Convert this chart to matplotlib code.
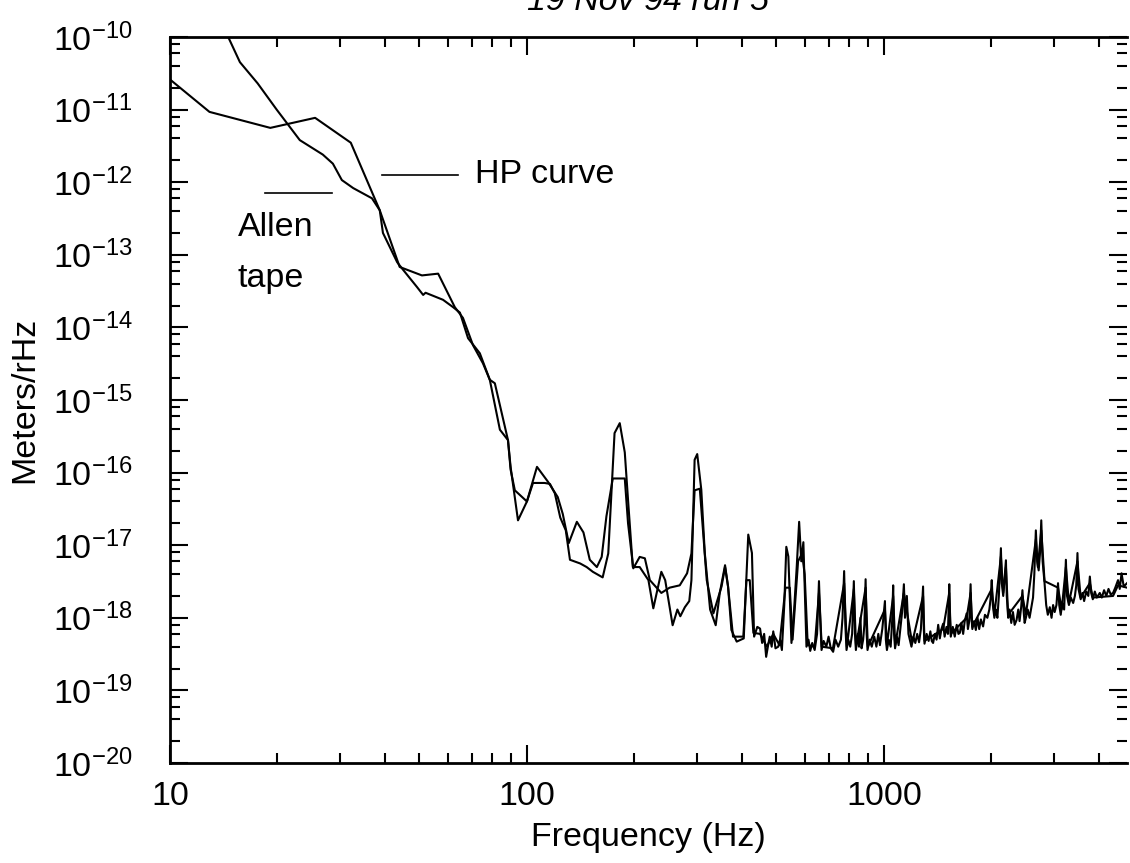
import numpy as np
import matplotlib
matplotlib.use("Agg")
import matplotlib.pyplot as plt
from matplotlib.ticker import LogLocator, FixedLocator, FixedFormatter, NullFormatter

plt.rcParams['font.family'] = ['Liberation Sans', 'DejaVu Sans']
plt.rcParams['mathtext.fontset'] = 'custom'
plt.rcParams['mathtext.rm'] = 'Liberation Sans'
plt.rcParams['mathtext.it'] = 'Liberation Sans:italic'
plt.rcParams['mathtext.default'] = 'regular'

FS = 24.5

# HP curve (coarse analyzer points)
hp_f = [10, 12.9, 19.1, 25.5, 32.1, 38.7, 44, 50.8, 56.4, 62.8, 66.2, 70.6, 75.3, 78.7,
        81.3, 88.5, 90, 94.4, 100, 106.7, 114.5, 122, 126, 131, 138, 144, 150, 157, 162,
        167, 174, 188, 192, 198.6, 207, 214, 221, 238, 251, 268, 281, 289, 295, 305, 312,
        319, 333, 351, 359, 366, 378, 404, 412, 421, 431, 450, 470, 490, 510, 530, 545,
        555, 575, 590, 600, 612, 640, 658, 670, 720, 774, 788, 824, 836, 889, 902, 1007,
        1020, 1062, 1076, 1138, 1200, 1288, 1300, 1466, 1525, 1540, 1706, 1750, 1770, 2006,
        2040, 2128, 2160, 2198, 2230, 2445, 2500, 2666, 2700, 2761, 2820, 3076, 3150, 3236,
        3300, 3487, 3560, 3777, 3850, 4387, 4530, 4800]
hp_a = [2.6e-11, 9.3e-12, 5.6e-12, 7.7e-12, 3.5e-12, 4.1e-13, 6.8e-14, 5.2e-14, 5.5e-14,
        1.9e-14, 1.35e-14, 5.7e-15, 3.2e-15, 1.9e-15, 1.7e-15, 2.8e-16, 1.2e-16, 2.2e-17,
        4.0e-17, 1.2e-16, 7.5e-17, 4.6e-17, 2.7e-17, 1.07e-17, 2.1e-17, 1.5e-17, 6.3e-18,
        5.0e-18, 6.9e-18, 2.5e-17, 8.3e-17, 8.3e-17, 2.0e-17, 4.8e-18, 6.9e-18, 6.6e-18,
        3.3e-18, 2.2e-18, 2.6e-18, 2.8e-18, 4.1e-18, 7.7e-18, 5.7e-17, 6.0e-17, 1.4e-17,
        3.3e-18, 1.15e-18, 2.7e-18, 5.0e-18, 2.7e-18, 5.5e-19, 5.5e-19, 3.3e-18, 3.3e-18,
        6.2e-19, 6.0e-19, 4.0e-19, 6.0e-19, 4.2e-19, 2.6e-18, 2.6e-18, 5.0e-19, 6.0e-18,
        7.7e-18, 4.0e-18, 4.2e-19, 4.0e-19, 2.2e-18, 4.0e-19, 3.8e-19, 3.0e-18, 4.0e-19,
        2.5e-18, 4.0e-19, 2.6e-18, 4.0e-19, 1.3e-18, 4.2e-19, 2.0e-18, 4.2e-19, 2.2e-18,
        4.5e-19, 2.0e-18, 4.8e-19, 7.0e-19, 2.2e-18, 6.0e-19, 1.0e-18, 2.2e-18, 7.5e-19,
        2.5e-18, 1.1e-18, 7.0e-18, 2.2e-18, 5.0e-18, 1.1e-18, 2.0e-18, 1.1e-18, 1.2e-17,
        5.0e-18, 1.6e-17, 3.2e-18, 2.6e-18, 1.3e-18, 5.0e-18, 1.6e-18, 6.0e-18, 1.9e-18,
        3.0e-18, 1.9e-18, 2.0e-18, 2.8e-18, 2.6e-18]

# Allen tape spectrum
allen_f = [14.2, 15.7, 17.6, 19.9, 23.1, 26.8, 28.6, 30.3, 32.6, 36.8, 38.7, 39.5, 43.3,
           45, 49.2, 51.2, 52, 58.2, 62.1, 64.9, 68.4, 73.8, 78.7, 84, 88.5, 90, 92.5, 100,
           104, 112, 116, 119.7, 124, 128.5, 132, 141, 147, 153, 163, 169, 176, 182, 188,
           192, 198, 207, 219, 226, 238, 244, 256, 264, 269, 277, 285, 289, 295, 300, 308,
           315, 326, 338, 347, 359, 366, 374, 387, 405, 417, 427,
           433, 442, 450, 456, 462, 468, 474, 479, 485, 490, 497, 506, 512, 518, 526, 533,
           540, 546, 551, 560, 570, 579, 587, 595, 601, 607, 615, 622, 630, 640, 650, 658,
           664, 669, 678, 690, 700, 710, 721, 732, 745, 758, 766, 774, 780, 786, 795, 805,
           815, 824, 830, 835, 845, 852, 860, 866, 875, 882, 889, 895, 900, 912, 925, 940,
           953, 965, 975, 990, 1007, 1013, 1020, 1032, 1045, 1055, 1062, 1068, 1075, 1088,
           1100, 1112, 1125, 1138, 1146, 1160, 1172, 1182, 1195, 1210, 1225, 1240, 1255,
           1270, 1288, 1294, 1300, 1318, 1335, 1350, 1362, 1374, 1390, 1405, 1420, 1435,
           1450, 1466, 1480, 1498, 1512, 1525, 1533, 1540, 1560, 1580, 1600, 1618, 1633,
           1650, 1668, 1685, 1706, 1720, 1735, 1750, 1760, 1770, 1790, 1810, 1830, 1850,
           1870, 1897, 1920, 1950, 1975, 1990, 2006, 2020, 2040, 2060, 2080, 2100, 2128,
           2140, 2160, 2178, 2198, 2210, 2230, 2250, 2275, 2300, 2325, 2354, 2380, 2400,
           2425, 2445, 2465, 2480, 2500, 2530, 2560, 2590, 2618, 2640, 2666, 2690, 2715,
           2740, 2761, 2785, 2820, 2850, 2880, 2917, 2950, 2980, 3010, 3045, 3076, 3100,
           3130, 3160, 3200, 3236, 3260, 3300, 3340, 3392, 3430, 3460, 3487, 3510, 3560,
           3600, 3640, 3690, 3740, 3777, 3810, 3850, 3900, 3950, 4027, 4080, 4140, 4200,
           4260, 4320, 4387, 4450, 4530, 4580, 4634, 4700, 4800]
allen_a = [1.3e-10, 4.5e-11, 2.3e-11, 1.0e-11, 3.8e-12, 2.4e-12, 1.8e-12, 1.07e-12, 8.3e-13,
           6.0e-13, 4.1e-13, 2.0e-13, 7.9e-14, 6.2e-14, 3.6e-14, 2.8e-14, 3.0e-14, 2.4e-14,
           1.9e-14, 1.6e-14, 7.1e-15, 4.4e-15, 1.9e-15, 3.9e-16, 2.8e-16, 1.1e-16, 5.7e-17,
           4.0e-17, 7.2e-17, 7.2e-17, 7.0e-17, 5.2e-17, 2.4e-17, 1.6e-17, 6.3e-18, 5.6e-18,
           5.0e-18, 4.3e-18, 3.6e-18, 7.7e-18, 3.5e-16, 4.8e-16, 1.9e-16, 4.2e-17, 5.0e-18,
           5.0e-18, 3.3e-18, 1.35e-18, 4.3e-18, 3.3e-18, 7.9e-19, 1.3e-18, 1.05e-18, 1.4e-18,
           1.7e-18, 3.3e-18, 1.5e-16, 1.8e-16, 5.8e-17, 7.8e-18, 1.3e-18, 7.9e-19, 2.2e-18,
           5.3e-18, 2.7e-18, 6.8e-19, 4.7e-19, 5.2e-19, 1.4e-17, 7.8e-18,
           5.5e-19, 7.5e-19, 7.1e-19, 4.5e-19, 6.0e-19, 2.9e-19, 4.2e-19, 5.5e-19, 4.0e-19,
           6.5e-19, 3.8e-19, 4.0e-19, 5.0e-19, 3.6e-19, 1.5e-18, 9.5e-18, 7.0e-18, 1.5e-18,
           4.5e-19, 1.2e-18, 5.0e-18, 2.1e-17, 6.0e-18, 1.1e-17, 2.0e-18, 4.0e-19, 5.0e-19,
           3.5e-19, 4.5e-19, 3.6e-19, 6.0e-19, 3.2e-18, 9.0e-19, 3.6e-19, 4.8e-19, 4.0e-19,
           5.5e-19, 3.8e-19, 3.4e-19, 5.0e-19, 4.0e-19, 5.0e-19, 1.0e-18, 4.4e-18, 8.0e-19,
           3.6e-19, 5.0e-19, 4.0e-19, 6.0e-19, 3.2e-18, 6.0e-19, 3.6e-19, 6.0e-19, 4.0e-19,
           1.0e-18, 3.8e-19, 5.0e-19, 8.0e-19, 3.4e-18, 6.0e-19, 3.6e-19, 5.0e-19, 4.0e-19,
           5.5e-19, 4.0e-19, 6.0e-19, 4.2e-19, 7.0e-19, 1.7e-18, 5.0e-19, 3.6e-19, 5.0e-19,
           4.0e-19, 9.0e-19, 2.8e-18, 6.0e-19, 3.8e-19, 5.5e-19, 4.2e-19, 7.0e-19, 1.2e-18,
           2.9e-18, 1.0e-18, 2.0e-18, 6.0e-19, 5.0e-19, 4.0e-19, 5.5e-19, 4.5e-19, 6.0e-19,
           4.6e-19, 7.0e-19, 2.7e-18, 7.0e-19, 4.4e-19, 6.0e-19, 4.8e-19, 6.5e-19, 4.8e-19,
           4.5e-19, 6.0e-19, 5.0e-19, 8.0e-19, 5.2e-19, 7.0e-19, 8.3e-19, 5.5e-19, 7.5e-19,
           6.0e-19, 2.9e-18, 9.0e-19, 5.5e-19, 7.5e-19, 5.5e-19, 8.0e-19, 6.0e-19, 6.2e-19,
           8.5e-19, 6.0e-19, 9.0e-19, 1.15e-18, 7.0e-19, 9.0e-19, 2.9e-18, 1.0e-18, 7.0e-19,
           9.0e-19, 6.8e-19, 1.0e-18, 7.0e-19, 9.5e-19, 7.6e-19, 1.1e-18, 1.0e-18, 1.3e-18,
           1.8e-18, 3.3e-18, 1.5e-18, 1.0e-18, 1.3e-18, 1.0e-18, 2.0e-18, 9.1e-18, 3.0e-18,
           2.0e-18, 3.5e-18, 6.2e-18, 2.0e-18, 1.0e-18, 1.3e-18, 8.5e-19, 1.2e-18, 8.0e-19,
           9.3e-19, 1.3e-18, 9.0e-19, 1.4e-18, 2.4e-18, 1.2e-18, 8.5e-19, 1.0e-18, 1.3e-18,
           1.0e-18, 1.4e-18, 1.9e-18, 4.0e-18, 1.6e-17, 6.0e-18, 4.5e-18, 8.0e-18, 2.2e-17,
           6.0e-18, 3.0e-18, 1.5e-18, 1.1e-18, 1.4e-18, 1.0e-18, 1.5e-18, 1.2e-18, 1.5e-18,
           3.0e-18, 1.5e-18, 1.1e-18, 1.6e-18, 1.3e-18, 6.3e-18, 2.0e-18, 1.5e-18, 1.9e-18,
           1.6e-18, 2.0e-18, 2.8e-18, 7.8e-18, 2.5e-18, 1.8e-18, 2.2e-18, 1.7e-18, 2.3e-18,
           2.0e-18, 3.7e-18, 2.2e-18, 1.8e-18, 2.3e-18, 1.9e-18, 2.2e-18, 1.9e-18, 2.4e-18,
           2.0e-18, 2.5e-18, 2.1e-18, 2.2e-18, 2.6e-18, 3.3e-18, 2.5e-18, 4.1e-18, 2.7e-18,
           3.0e-18]

xtick_vals = [10, 100, 1000]
xtick_labels = ['10', '100', '1000']

fig = plt.figure(figsize=(11.3, 8.63), dpi=100)
ax = fig.add_axes([170 / 1130, 1 - 763 / 863, (1127 - 170) / 1130, (763 - 37) / 863])

ax.plot(hp_f, hp_a, color='black', lw=1.5)
ax.plot(allen_f, allen_a, color='black', lw=1.5)

ax.set_xscale('log')
ax.set_yscale('log')
ax.set_xlim(10, 4800)
ax.set_ylim(1e-20, 1e-10)

ax.xaxis.set_major_locator(FixedLocator(xtick_vals))
ax.xaxis.set_major_formatter(FixedFormatter(xtick_labels))
ax.xaxis.set_minor_locator(LogLocator(base=10, subs=np.arange(2, 10), numticks=20))
ax.xaxis.set_minor_formatter(NullFormatter())
ax.yaxis.set_major_locator(LogLocator(base=10, numticks=20))
ax.yaxis.set_minor_locator(LogLocator(base=10, subs=[2, 4, 6, 8], numticks=20))
ax.yaxis.set_minor_formatter(NullFormatter())

ax.tick_params(which='both', direction='in', top=True, right=True, width=1.5, labelsize=FS)
ax.tick_params(which='major', length=13)
ax.tick_params(which='minor', length=7)
ax.tick_params(axis='y', which='major', pad=27)
ax.tick_params(axis='x', which='major', pad=13)

for s in ['top', 'bottom', 'left']:
    ax.spines[s].set_linewidth(2)
ax.spines['right'].set_visible(False)

ax.set_xlabel('Frequency (Hz)', fontsize=FS, labelpad=7)
ax.set_ylabel('Meters/rHz', fontsize=FS, labelpad=9)

fig.text(648 / 1130, 1 - 10 / 863, '19 Nov 94 run 5', fontsize=FS, style='italic',
         ha='center', va='baseline')

# labels for the two curves
ax.plot([39.3, 64], [1.26e-12, 1.26e-12], color='black', lw=1.2)
ax.text(71.5, 1.26e-12, 'HP curve', fontsize=FS, va='center', ha='left')
ax.plot([18.5, 28.4], [7.1e-13, 7.1e-13], color='black', lw=1.2)
ax.text(15.5, 3.9e-13, 'Allen\ntape', fontsize=FS, va='top', ha='left', linespacing=1.85)

fig.savefig('out.png', dpi=100)
